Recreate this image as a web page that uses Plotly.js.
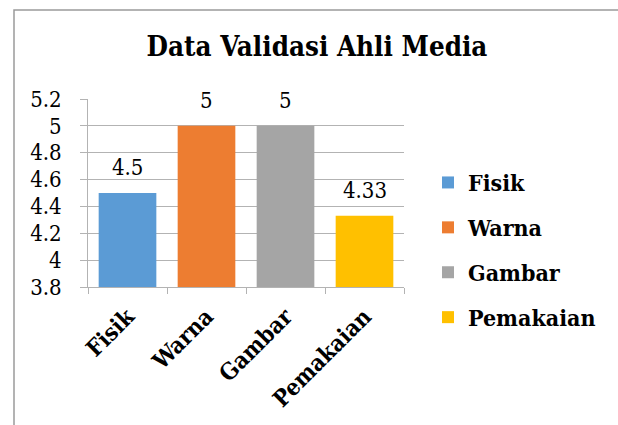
<!DOCTYPE html>
<html>
<head>
<meta charset="utf-8">
<script src="https://cdn.plot.ly/plotly-3.0.1.min.js"></script>
<style>html,body{margin:0;padding:0;background:#fff;}#chart{width:618px;height:425px;}</style>
</head>
<body>
<div id="chart"></div>
<script>
const categories = ["Fisik", "Warna", "Gambar", "Pemakaian"];
const values = [4.5, 5, 5, 4.33];
const valueLabels = ["4.5", "5", "5", "4.33"];
const colors = ["#5B9BD5", "#ED7D31", "#A5A5A5", "#FFC000"];
const yTicks = [3.8, 4, 4.2, 4.4, 4.6, 4.8, 5, 5.2];
const yTickLabels = ["3.8", "4", "4.2", "4.4", "4.6", "4.8", "5", "5.2"];
const chartTitle = "Data Validasi Ahli Media";
const heading = "Gambar 2. Hasil Validasi ahli media";

const serif = "DejaVu Serif Condensed";

const W = 618, H = 425;
const m = {l: 88, r: 214, t: 99, b: 138};
const pw = W - m.l - m.r, ph = H - m.t - m.b;
const px = x => (x - m.l) / pw;
const py = y => (H - m.b - y) / ph;

const traces = categories.map((c, i) => ({
  type: "bar",
  x: [c],
  y: [values[i]],
  name: c,
  legendgroup: c,
  marker: {color: colors[i]},
  hoverinfo: "skip"
}));

const annotations = categories.map((c, i) => ({
  x: c, y: values[i], xref: "x", yref: "y",
  text: valueLabels[i], showarrow: false,
  yanchor: "bottom", yshift: 11,
  font: {family: serif, size: 22, color: "#000"}
}));
annotations.push({
  xref: "paper", yref: "paper", x: px(12), y: py(5),
  xanchor: "left", yanchor: "bottom", showarrow: false,
  text: "<b>" + heading + "</b>",
  font: {family: serif, size: 24, color: "#000"}
});

const layout = {
  width: W, height: H,
  margin: m,
  font: {family: serif},
  paper_bgcolor: "#fff", plot_bgcolor: "#fff",
  title: {text: "<b>" + chartTitle + "</b>", font: {family: serif, size: 27.5, color: "#000"},
          x: px(317), xanchor: "center", xref: "paper", y: 1 - 46/H, yanchor: "middle"},
  barmode: "overlay",
  bargap: 0.27,
  showlegend: true,
  legend: {
    x: px(428), y: py(161), xanchor: "left", yanchor: "top",
    font: {family: serif, size: 23, color: "#000", weight: "bold"},
    traceorder: "grouped", tracegroupgap: 12,
    itemwidth: 30, bgcolor: "rgba(0,0,0,0)"
  },
  xaxis: {
    type: "category",
    tickangle: -45,
    tickfont: {family: serif, size: 23, color: "#000", weight: "bold"},
    ticks: "outside", tickson: "boundaries", ticklen: 6, tickcolor: "#b3b3b3",
    showline: true, linecolor: "#b3b3b3", linewidth: 1,
    showgrid: false, fixedrange: true, ticklabelstandoff: 6
  },
  yaxis: {
    range: [3.8, 5.2],
    tickvals: yTicks, ticktext: yTickLabels,
    tickfont: {family: serif, size: 22, color: "#000"},
    ticks: "outside", ticklen: 7, tickcolor: "#b3b3b3",
    showline: true, linecolor: "#b3b3b3", linewidth: 1,
    showgrid: true, gridcolor: "#b3b3b3", gridwidth: 1,
    zeroline: false, fixedrange: true, ticklabelstandoff: 14
  },
  annotations: annotations,
  shapes: [{
    type: "path", xref: "paper", yref: "paper",
    path: `M ${px(14)} ${py(425)} L ${px(14)} ${py(10)} L ${px(618)} ${py(10)}`,
    line: {color: "#9a9a9a", width: 1.5}
  }]
};

Plotly.newPlot("chart", traces, layout, {displayModeBar: false, staticPlot: true});
</script>
</body>
</html>
